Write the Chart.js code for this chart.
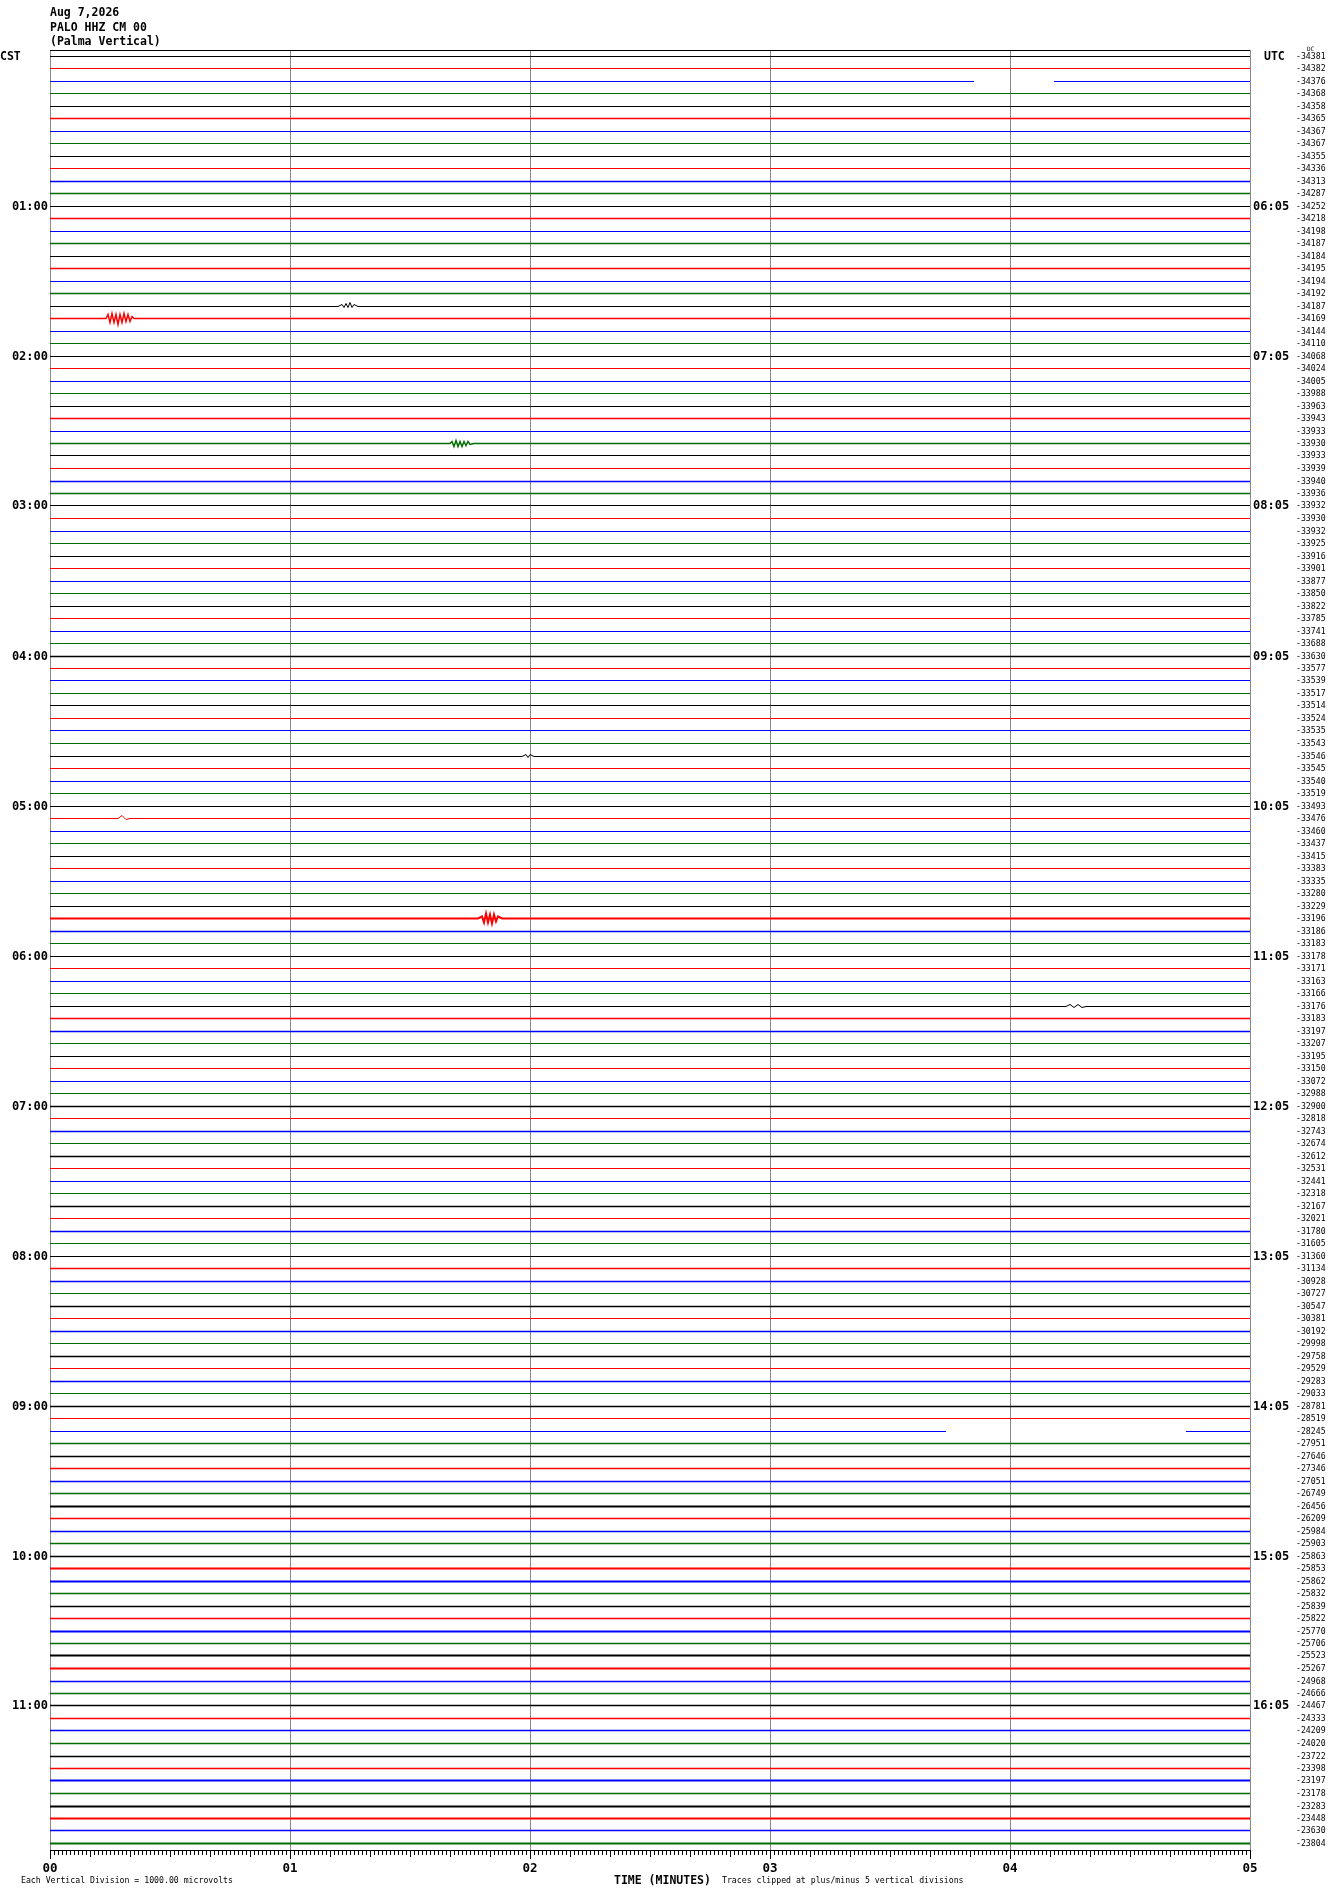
<!DOCTYPE html>
<html>
<head>
<meta charset="utf-8">
<title>PALO HHZ CM 00</title>
<script src="https://cdn.jsdelivr.net/npm/chart.js@4.4.1/dist/chart.umd.min.js"></script>
<style>
  body { margin: 0; background: #fff; }
  #wrap { position: relative; width: 1330px; height: 1894px; }
  #wrap canvas { position: absolute; left: 0; top: 0; }
  .txt { position: absolute; font-family: "DejaVu Sans Mono", monospace; color: #000; white-space: pre; }
  .big { font-size: 11.5px; font-weight: bold; line-height: 14.7px; }
  .small { font-size: 8.2px; line-height: 10px; }
</style>
</head>
<body>
<div id="wrap">
  <canvas id="heli" width="1330" height="1894"></canvas>
  <div class="txt big" style="left:50px; top:5px">Aug 7,2026
PALO HHZ CM 00
(Palma Vertical)</div>
  <div class="txt big" style="left:0px; top:49px">CST</div>
  <div class="txt big" style="left:1264px; top:49px">UTC</div>
  <div class="txt" style="left:1307px; top:45px; font-size:6px">DC</div>
  <div class="txt small" style="left:21px; top:1875px">Each Vertical Division = 1000.00 microvolts</div>
  <div class="txt big" style="left:614px; top:1873px">TIME (MINUTES)</div>
  <div class="txt small" style="left:722px; top:1875px">Traces clipped at plus/minus 5 vertical divisions</div>
</div>
<script>
// one trace per 5 minutes, value printed at the right end of each line
const traceValues = [
  -34381, -34382, -34376, -34368, -34358, -34365, -34367, -34367, -34355, -34336, -34313, -34287,
  -34252, -34218, -34198, -34187, -34184, -34195, -34194, -34192, -34187, -34169, -34144, -34110,
  -34068, -34024, -34005, -33988, -33963, -33943, -33933, -33930, -33933, -33939, -33940, -33936,
  -33932, -33930, -33932, -33925, -33916, -33901, -33877, -33850, -33822, -33785, -33741, -33688,
  -33630, -33577, -33539, -33517, -33514, -33524, -33535, -33543, -33546, -33545, -33540, -33519,
  -33493, -33476, -33460, -33437, -33415, -33383, -33335, -33280, -33229, -33196, -33186, -33183,
  -33178, -33171, -33163, -33166, -33176, -33183, -33197, -33207, -33195, -33150, -33072, -32988,
  -32900, -32818, -32743, -32674, -32612, -32531, -32441, -32318, -32167, -32021, -31780, -31605,
  -31360, -31134, -30928, -30727, -30547, -30381, -30192, -29998, -29758, -29529, -29283, -29033,
  -28781, -28519, -28245, -27951, -27646, -27346, -27051, -26749, -26456, -26209, -25984, -25903,
  -25863, -25853, -25862, -25832, -25839, -25822, -25770, -25706, -25523, -25267, -24968, -24666,
  -24467, -24333, -24209, -24020, -23722, -23398, -23197, -23178, -23283, -23448, -23630, -23804
]

const cstLabels = ['01:00', '02:00', '03:00', '04:00', '05:00', '06:00', '07:00', '08:00', '09:00', '10:00', '11:00']
const utcLabels = ['06:05', '07:05', '08:05', '09:05', '10:05', '11:05', '12:05', '13:05', '14:05', '15:05', '16:05']
const minuteLabels = ['00', '01', '02', '03', '04', '05']

// rough background noise per trace, 0 = quiet, 2 = noisy
const noiseLevel = [
  0, 0, 0, 0, 0, 1, 0, 0, 0, 0, 1, 1, 0, 1, 0, 1, 0, 1, 0, 1, 0, 1, 0, 0,
  0, 0, 0, 0, 0, 1, 0, 1, 0, 0, 1, 1, 0, 0, 0, 0, 0, 0, 0, 0, 0, 0, 0, 0,
  1, 0, 0, 0, 0, 0, 0, 0, 0, 0, 0, 0, 0, 0, 0, 0, 0, 0, 0, 0, 0, 2, 1, 0,
  0, 0, 0, 0, 0, 1, 1, 0, 0, 0, 0, 0, 1, 0, 1, 0, 1, 0, 0, 0, 1, 0, 1, 0,
  0, 1, 1, 0, 1, 0, 1, 0, 1, 0, 1, 0, 1, 0, 0, 1, 1, 1, 1, 1, 2, 1, 1, 1,
  1, 2, 2, 1, 1, 1, 2, 1, 2, 2, 1, 1, 1, 1, 1, 1, 1, 1, 2, 1, 2, 2, 1, 2
]

// missing data: [trace, from second, to second]
const gaps = [[2, 231, 251], [110, 224, 284]]

// visible bursts: [second, deflection in vertical divisions]
const bursts = [
  { trace: 20, points: [[72, 0], [73, 0.15], [73.5, -0.1], [74, 0.2], [74.5, -0.15], [75, 0.25], [75.5, -0.1], [76, 0.15], [77, 0]] },
  { trace: 21, points: [[14, 0], [14.5, 0.3], [15, -0.3], [15.5, 0.4], [16, -0.35], [16.5, 0.3], [17, -0.45], [17.5, 0.35], [18, -0.3], [18.5, 0.4], [19, -0.25], [19.5, 0.3], [20, -0.2], [20.5, 0.15], [21, 0]] },
  { trace: 31, points: [[100, 0], [100.5, 0.15], [101, -0.2], [101.5, 0.25], [102, -0.2], [102.5, 0.2], [103, -0.25], [103.5, 0.2], [104, -0.15], [104.5, 0.15], [105, -0.1], [106, 0]] },
  { trace: 56, points: [[118, 0], [119, 0.12], [119.5, -0.1], [120, 0.12], [121, 0]] },
  { trace: 61, points: [[17, 0], [18, 0.2], [19, -0.05], [20, 0]] },
  { trace: 69, points: [[107, 0], [108, 0.2], [108.5, -0.3], [109, 0.4], [109.5, -0.35], [110, 0.3], [110.5, -0.4], [111, 0.3], [111.5, -0.25], [112, 0.2], [113, 0]] },
  { trace: 76, points: [[254, 0], [255, 0.12], [256, -0.1], [257, 0.15], [258, -0.1], [259, 0]] }
]

const traceColors = ['#000000', '#ff0000', '#0000ff', '#006e00']
const widthForNoise = [1, 1.5, 2]
const endSecond = (minuteLabels.length - 1) * 60

// linear scale that snaps to pixel centres so 1px traces stay sharp
class HeliScale extends Chart.LinearScale {
  getPixelForValue(value) {
    return Math.floor(super.getPixelForValue(value)) + 0.5
  }
}
HeliScale.id = 'heliLinear'
HeliScale.defaults = Chart.LinearScale.defaults
Chart.register(HeliScale)

const datasets = traceValues.map((v, i) => {
  const pts = [{ x: 0, y: i }, { x: endSecond, y: i }]
  const b = bursts.find(b => b.trace === i)
  if (b) b.points.forEach(p => pts.push({ x: p[0], y: i - p[1] }))
  const g = gaps.find(g => g[0] === i)
  if (g) pts.push({ x: g[1], y: i }, { x: (g[1] + g[2]) / 2, y: null }, { x: g[2], y: i })
  pts.sort((a, c) => a.x - c.x)
  return {
    data: pts,
    borderColor: traceColors[i % 4],
    borderWidth: widthForNoise[noiseLevel[i]],
    pointRadius: 0,
    spanGaps: false,
    tension: 0
  }
})

const isWhole = v => Math.abs(v - Math.round(v)) < 1e-6
const traceTicks = scale => { scale.ticks = traceValues.map((v, i) => ({ value: i })) }
const labelFont = { family: 'DejaVu Sans Mono', size: 12, weight: 'bold' }
const yBase = {
  type: 'heliLinear', reverse: true, min: -0.48, max: 143.52, bounds: 'data',
  afterBuildTicks: traceTicks,
  grid: { display: false, drawTicks: false },
  border: { display: false }
}

// second ticks under the time axis and the black top edge
const minorTicks = {
  id: 'minorTicks',
  afterDraw(chart) {
    const { ctx, chartArea, scales: { x } } = chart
    ctx.save()
    ctx.strokeStyle = '#000'
    ctx.lineWidth = 1
    ctx.beginPath()
    for (let s = 0; s <= endSecond; s++) {
      if (s % 60 === 0) continue
      const px = Math.round(x.getPixelForValue(s)) + 0.5
      const len = s % 10 === 0 ? 7 : 5
      ctx.moveTo(px, chartArea.bottom)
      ctx.lineTo(px, chartArea.bottom + len)
    }
    ctx.moveTo(chartArea.left, Math.round(chartArea.top) + 0.5)
    ctx.lineTo(chartArea.right, Math.round(chartArea.top) + 0.5)
    ctx.stroke()
    ctx.restore()
  }
}

new Chart(document.getElementById('heli'), {
  type: 'line',
  data: { datasets: datasets },
  options: {
    responsive: false,
    animation: false,
    devicePixelRatio: 1,
    layout: { padding: { top: 50, left: 0, right: 0, bottom: 0 } },
    plugins: { legend: { display: false }, tooltip: { enabled: false } },
    scales: {
      x: {
        type: 'linear', min: 0, max: endSecond, position: 'bottom',
        afterBuildTicks: scale => { scale.ticks = minuteLabels.map((l, m) => ({ value: m * 60 })) },
        afterFit: scale => { scale.height = 44 },
        grid: { color: '#8a8a8a', lineWidth: 1, tickColor: '#000', tickLength: 9 },
        border: { display: true, color: '#000', width: 1 },
        ticks: {
          padding: 2, color: '#000', autoSkip: false, maxRotation: 0,
          font: { family: 'DejaVu Sans Mono', size: 12.5, weight: 'bold' },
          callback: v => minuteLabels[Math.round(v / 60)]
        }
      },
      y: {
        ...yBase, position: 'left',
        afterFit: scale => { scale.width = 50 },
        ticks: {
          padding: 2, color: '#000', autoSkip: false, font: labelFont,
          callback: v => (isWhole(v) && v > 0 && Math.round(v) % 12 === 0) ? cstLabels[Math.round(v) / 12 - 1] : ''
        }
      },
      yUtc: {
        ...yBase, position: 'right', weight: 0,
        afterFit: scale => { scale.width = 43 },
        ticks: {
          padding: 3, color: '#000', autoSkip: false, font: labelFont,
          callback: v => (isWhole(v) && v > 0 && Math.round(v) % 12 === 0) ? utcLabels[Math.round(v) / 12 - 1] : ''
        }
      },
      yVal: {
        ...yBase, position: 'right', weight: 1,
        afterFit: scale => { scale.width = 37 },
        ticks: {
          padding: 3, color: '#000', autoSkip: false,
          font: { family: 'DejaVu Sans Mono', size: 8.2 },
          callback: v => isWhole(v) ? String(traceValues[Math.round(v)]) : ''
        }
      }
    }
  },
  plugins: [minorTicks]
})
</script>
</body>
</html>
